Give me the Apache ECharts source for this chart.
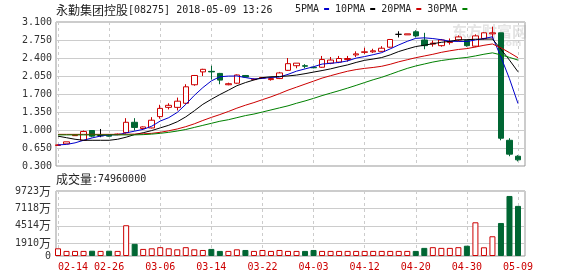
<!DOCTYPE html>
<html><head><meta charset="utf-8">
<script src="https://cdn.jsdelivr.net/npm/echarts@6/dist/echarts.min.js"></script>
<style>html,body{margin:0;padding:0;background:#fff}#c{width:578px;height:276px}</style>
</head><body><div id="c"></div>
<script>
const dates = ['02-14','02-15','02-20','02-21','02-22','02-23','02-26','02-27','02-28','03-01','03-02','03-05','03-06','03-07','03-08','03-09','03-12','03-13','03-14','03-15','03-16','03-19','03-20','03-21','03-22','03-23','03-26','03-27','03-28','03-29','04-03','04-04','04-06','04-09','04-10','04-11','04-12','04-13','04-16','04-17','04-18','04-19','04-20','04-23','04-24','04-25','04-26','04-27','04-30','05-02','05-03','05-04','05-07','05-08','05-09'];
const opens  = [0.70,0.73,0.89,0.80,0.99,0.89,0.90,0.91,0.95,1.15,1.03,1.04,1.26,1.44,1.44,1.52,1.88,2.13,2.14,2.10,1.88,1.91,2.06,1.98,2.01,1.98,2.00,2.16,2.25,2.25,2.22,2.22,2.30,2.32,2.37,2.46,2.51,2.52,2.53,2.61,2.86,2.85,2.91,2.75,2.67,2.64,2.70,2.75,2.74,2.63,2.78,2.87,2.89,0.80,0.49];
const closes = [0.71,0.77,0.90,0.97,0.88,0.89,0.88,0.92,1.15,1.05,1.06,1.19,1.42,1.48,1.56,1.84,2.06,2.18,2.13,1.97,1.90,2.07,2.03,1.99,2.02,2.00,2.11,2.29,2.30,2.24,2.21,2.37,2.36,2.39,2.39,2.48,2.52,2.54,2.59,2.76,2.86,2.87,2.83,2.64,2.69,2.75,2.72,2.81,2.64,2.83,2.89,2.89,0.84,0.53,0.42];
const lows   = [0.70,0.73,0.89,0.79,0.86,0.86,0.87,0.90,0.93,0.99,1.02,1.03,1.22,1.40,1.38,1.50,1.86,2.05,1.98,1.89,1.87,1.90,2.02,1.97,2.00,1.96,1.99,2.15,2.20,2.20,2.20,2.21,2.28,2.30,2.33,2.42,2.48,2.50,2.52,2.60,2.80,2.85,2.80,2.57,2.62,2.62,2.66,2.72,2.62,2.61,2.76,2.78,0.80,0.49,0.39];
const highs  = [0.72,0.77,0.91,0.99,1.00,1.02,0.92,0.93,1.23,1.23,1.07,1.25,1.49,1.52,1.63,1.89,2.07,2.19,2.25,2.11,1.92,2.08,2.07,2.00,2.03,2.01,2.13,2.40,2.30,2.28,2.23,2.44,2.42,2.44,2.44,2.53,2.60,2.58,2.63,2.77,2.92,2.87,2.94,2.89,2.74,2.77,2.78,2.84,2.75,2.86,2.90,3.01,2.89,0.84,0.51];
// volume in 万
const volumes = [1150,760,760,760,790,760,790,760,4600,1820,1060,1150,1320,1150,1000,1320,1000,900,1060,760,760,1000,900,760,900,760,900,760,760,760,900,760,760,760,760,760,760,760,760,760,760,760,760,1215,1320,1215,1215,1320,1540,5040,1300,2950,4940,8980,7496];
const ma5  = [0.71,0.72,0.75,0.80,0.846,0.882,0.904,0.908,0.944,0.978,1.012,1.074,1.174,1.24,1.342,1.498,1.672,1.824,1.954,2.036,2.048,2.05,2.02,1.992,2.002,2.022,2.03,2.082,2.144,2.188,2.23,2.282,2.296,2.314,2.344,2.398,2.428,2.464,2.504,2.578,2.654,2.724,2.782,2.792,2.778,2.756,2.726,2.722,2.722,2.75,2.778,2.812,2.418,1.996,1.514];
const ma10 = [0.88,0.85,0.82,0.80,0.80,0.80,0.80,0.82,0.86,0.912,0.947,0.989,1.041,1.092,1.16,1.255,1.373,1.499,1.597,1.689,1.773,1.861,1.922,1.973,2.019,2.035,2.04,2.051,2.068,2.095,2.126,2.156,2.189,2.229,2.266,2.314,2.355,2.38,2.409,2.461,2.526,2.576,2.623,2.648,2.678,2.705,2.725,2.752,2.757,2.764,2.767,2.769,2.57,2.359,2.132];
const ma20 = [0.915,0.915,0.915,0.915,0.915,0.915,0.915,0.915,0.917,0.92,0.925,0.935,0.955,0.985,1.02,1.065,1.12,1.185,1.245,1.30,1.36,1.425,1.482,1.533,1.59,1.645,1.707,1.775,1.833,1.892,1.95,2.009,2.056,2.101,2.143,2.175,2.198,2.216,2.239,2.278,2.326,2.366,2.406,2.439,2.472,2.51,2.54,2.566,2.583,2.613,2.647,2.673,2.597,2.504,2.405];
const ma30 = [0.905,0.905,0.905,0.905,0.905,0.905,0.905,0.905,0.905,0.905,0.91,0.92,0.935,0.955,0.98,1.01,1.05,1.09,1.13,1.17,1.20,1.24,1.28,1.31,1.35,1.39,1.43,1.47,1.52,1.565,1.615,1.669,1.717,1.765,1.815,1.868,1.923,1.977,2.025,2.082,2.142,2.198,2.245,2.283,2.321,2.351,2.373,2.394,2.411,2.44,2.473,2.5,2.461,2.412,2.359];
const priceMin = 0.3, priceMax = 3.1, priceStep = 0.35;
const volTicks = [0,1910,4514,7118,9723];
const maNames = ['5PMA','10PMA','20PMA','30PMA'];

const MONO = 'DejaVu Sans Mono', CJK = 'Noto Sans CJK SC';
const RED = '#cc0000', GREEN = '#006633';
const maColors = ['#0000cc','#000000','#cc0000','#008000'];
const maData = [ma5, ma10, ma20, ma30];

const chart = echarts.init(document.getElementById('c'), null, {renderer:'canvas'});
const gridBase = {outerBoundsMode:'none', containLabel:false};
const titleRich = {
  a:{fontFamily:CJK,fontSize:12,fontWeight:'normal',color:'#222',lineHeight:14},
  b:{fontFamily:MONO,fontSize:10,fontWeight:'normal',color:'#222',lineHeight:14}
};
chart.setOption({
  animation:false,
  backgroundColor:'#fff',
  title:[
    {left:56, top:3, padding:0, text:'{a|永勤集团控股}{b|[08275] 2018-05-09 13:26}',
     textStyle:{fontWeight:'normal', rich:titleRich}},
    {left:56, top:172, padding:0, text:'{a|成交量}{b|:74960000}',
     textStyle:{fontWeight:'normal', rich:titleRich}}
  ],
  legend:{left:295, top:4, padding:0, itemGap:6, itemWidth:5, itemHeight:2, icon:'rect', align:'right', selectedMode:false,
    textStyle:{fontFamily:MONO, fontSize:10, color:'#222'}, data:maNames},
  graphic:[
    {type:'text', left:452, top:24, z:-10, silent:true, style:{text:'东方财富网', font:'bold 15px "Noto Sans CJK SC"', fill:'#e4e4e4'}},
    {type:'text', left:497, top:39, z:-10, silent:true, style:{text:'.com', font:'bold 9px "DejaVu Sans"', fill:'#e4e4e4'}}
  ],
  grid:[
    Object.assign({left:58, top:22, width:460, height:144}, gridBase),
    Object.assign({left:58, top:191, width:460, height:65}, gridBase),
    Object.assign({left:56, top:22, width:469, height:144, show:true, borderColor:'#999', borderWidth:1, backgroundColor:'rgba(0,0,0,0)'}, gridBase),
    Object.assign({left:56, top:191, width:469, height:65, show:true, borderColor:'#999', borderWidth:1, backgroundColor:'rgba(0,0,0,0)'}, gridBase)
  ],
  xAxis:[
    {type:'category', gridIndex:0, data:dates, boundaryGap:false, axisLine:{show:false}, axisTick:{show:false}, axisLabel:{show:false},
     splitLine:{show:true, interval:5, lineStyle:{color:'#cccccc', type:[3,3]}}},
    {type:'category', gridIndex:1, data:dates, boundaryGap:false, axisLine:{show:false}, axisTick:{show:false},
     axisLabel:{show:true, interval:5, color:RED, fontFamily:MONO, fontSize:10, margin:6, alignMinLabel:'left', hideOverlap:false},
     splitLine:{show:true, interval:5, lineStyle:{color:'#cccccc', type:[3,3]}}},
    {type:'value', gridIndex:2, show:false, min:0, max:1, splitLine:{show:false}},
    {type:'value', gridIndex:3, show:false, min:0, max:1, splitLine:{show:false}}
  ],
  yAxis:[
    {type:'value', gridIndex:0, min:priceMin, max:priceMax, show:false, splitLine:{show:false}},
    {type:'value', gridIndex:1, min:0, max:volTicks[volTicks.length-1], show:false, splitLine:{show:false}},
    {type:'value', gridIndex:2, min:priceMin, max:priceMax, interval:priceStep, axisLine:{show:false}, axisTick:{show:false},
     axisLabel:{formatter:v=>v.toFixed(3), fontFamily:MONO, fontSize:10, color:'#333', margin:4},
     splitLine:{show:true, lineStyle:{color:'#cccccc'}}},
    {type:'value', gridIndex:3, min:0, max:volTicks[volTicks.length-1], axisLine:{show:false}, axisTick:{show:false, customValues:volTicks},
     axisLabel:{customValues:volTicks, margin:5, formatter:v=> v===0 ? '{n|0}' : '{n|'+v+'}{w|万}',
       rich:{n:{fontFamily:MONO,fontSize:10,color:'#333'}, w:{fontFamily:CJK,fontSize:12,color:'#333'}}},
     splitLine:{show:true, lineStyle:{color:'#cccccc'}}}
  ],
  series:[
    {type:'candlestick', xAxisIndex:0, yAxisIndex:0, barWidth:6, clip:false,
     data:dates.map((d,i)=>[opens[i],closes[i],lows[i],highs[i]]),
     itemStyle:{color:'#ffffff', color0:GREEN, borderColor:RED, borderColor0:GREEN, borderColorDoji:'#000000', borderWidth:1}},
    {type:'bar', xAxisIndex:1, yAxisIndex:1, barWidth:6, clip:false,
     data:volumes.map((v,i)=>({value:v, itemStyle: closes[i]>=opens[i] ? {color:'#ffffff', borderColor:RED, borderWidth:1} : {color:GREEN, borderColor:GREEN, borderWidth:1}}))}
  ].concat(maNames.map((n,k)=>({
    name:n, type:'line', xAxisIndex:0, yAxisIndex:0, data:maData[k], symbol:'none', showSymbol:false, smooth:false,
    color:maColors[k], lineStyle:{width:1, color:maColors[k]}, z:3
  })))
});
</script></body></html>
